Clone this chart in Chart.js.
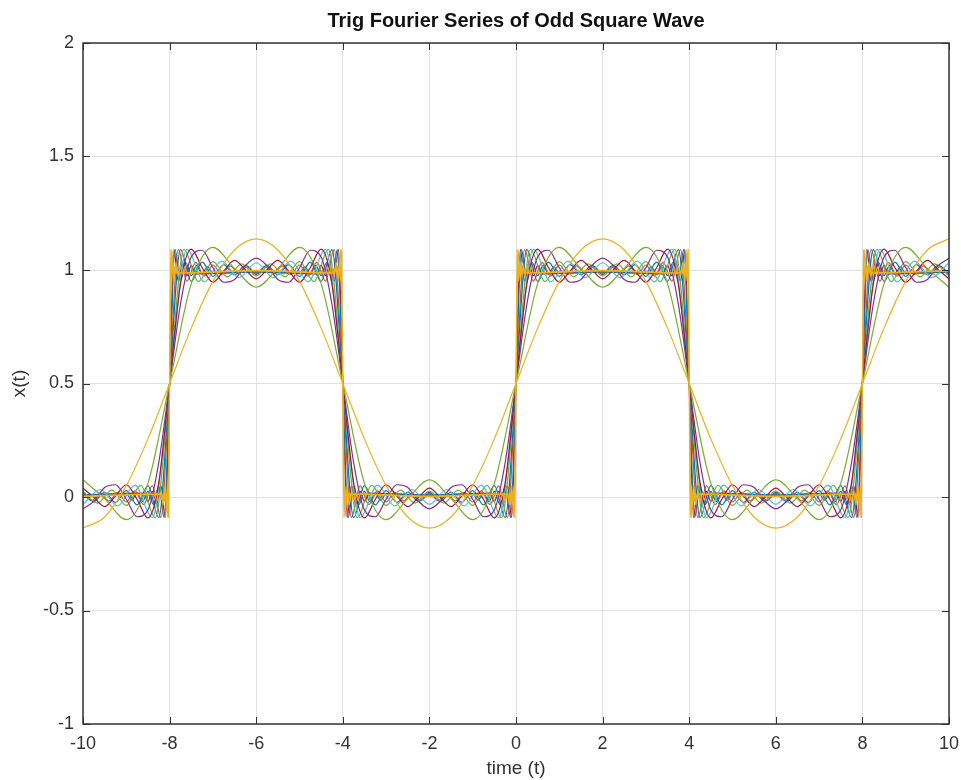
<!DOCTYPE html>
<html>
<head>
<meta charset="utf-8">
<script src="https://cdn.jsdelivr.net/npm/chart.js@4.4.1/dist/chart.umd.min.js"></script>
<style>
  body { margin: 0; background: #fff; }
  canvas { display: block; }
</style>
</head>
<body>
<canvas id="chart" width="961" height="780"></canvas>
<script>
// ========== Data ==========
const titleText = 'Trig Fourier Series of Odd Square Wave';
const xTicks = [-10, -8, -6, -4, -2, 0, 2, 4, 6, 8, 10];
const yTicks = [-1, -0.5, 0, 0.5, 1, 1.5, 2];

// time samples
const tHalf = [-10,-9.5,-9,-8.5,-8,-7.5,-7,-6.5,-6,-5.5,-5,-4.5,-4,-3.5,-3,-2.5,-2,-1.5,-1,-0.5,0,0.5,1,1.5,2,2.5,3,3.5,4,4.5,5,5.5,6,6.5,7,7.5,8,8.5,9,9.5,10];
const tQuarter = [-10,-9.75,-9.5,-9.25,-9,-8.75,-8.5,-8.25,-8,-7.75,-7.5,-7.25,-7,-6.75,-6.5,-6.25,-6,-5.75,-5.5,-5.25,-5,-4.75,-4.5,-4.25,-4,-3.75,-3.5,-3.25,-3,-2.75,-2.5,-2.25,-2,-1.75,-1.5,-1.25,-1,-0.75,-0.5,-0.25,0,0.25,0.5,0.75,1,1.25,1.5,1.75,2,2.25,2.5,2.75,3,3.25,3.5,3.75,4,4.25,4.5,4.75,5,5.25,5.5,5.75,6,6.25,6.5,6.75,7,7.25,7.5,7.75,8,8.25,8.5,8.75,9,9.25,9.5,9.75,10];
const tN9 = [-10,-9.6,-9.2,-8.8,-8.4,-8,-7.6,-7.2,-6.8,-6.4,-6,-5.6,-5.2,-4.8,-4.4,-4,-3.6,-3.2,-2.8,-2.4,-2,-1.6,-1.2,-0.8,-0.4,0,0.4,0.8,1.2,1.6,2,2.4,2.8,3.2,3.6,4,4.4,4.8,5.2,5.6,6,6.4,6.8,7.2,7.6,8,8.4,8.8,9.2,9.6,10];
const tN11 = [-10,-9.667,-9.333,-9,-8.667,-8.333,-8,-7.667,-7.333,-7,-6.667,-6.333,-6,-5.667,-5.333,-5,-4.667,-4.333,-4,-3.667,-3.333,-3,-2.667,-2.333,-2,-1.667,-1.333,-1,-0.667,-0.333,0,0.333,0.667,1,1.333,1.667,2,2.333,2.667,3,3.333,3.667,4,4.333,4.667,5,5.333,5.667,6,6.333,6.667,7,7.333,7.667,8,8.333,8.667,9,9.333,9.667,10];
const tFifth = [-10,-9.8,-9.6,-9.4,-9.2,-9,-8.8,-8.6,-8.4,-8.2,-8,-7.8,-7.6,-7.4,-7.2,-7,-6.8,-6.6,-6.4,-6.2,-6,-5.8,-5.6,-5.4,-5.2,-5,-4.8,-4.6,-4.4,-4.2,-4,-3.8,-3.6,-3.4,-3.2,-3,-2.8,-2.6,-2.4,-2.2,-2,-1.8,-1.6,-1.4,-1.2,-1,-0.8,-0.6,-0.4,-0.2,0,0.2,0.4,0.6,0.8,1,1.2,1.4,1.6,1.8,2,2.2,2.4,2.6,2.8,3,3.2,3.4,3.6,3.8,4,4.2,4.4,4.6,4.8,5,5.2,5.4,5.6,5.8,6,6.2,6.4,6.6,6.8,7,7.2,7.4,7.6,7.8,8,8.2,8.4,8.6,8.8,9,9.2,9.4,9.6,9.8,10];
const tN31 = [-10,
  -9,-8.875,-8.75,-8.625,-8.5,-8.375,-8.25,-8.125,-8,-7.875,-7.75,-7.625,-7.5,-7.375,-7.25,-7.125,-7,
  -6,
  -5,-4.875,-4.75,-4.625,-4.5,-4.375,-4.25,-4.125,-4,-3.875,-3.75,-3.625,-3.5,-3.375,-3.25,-3.125,-3,
  -2,
  -1,-0.875,-0.75,-0.625,-0.5,-0.375,-0.25,-0.125,0,0.125,0.25,0.375,0.5,0.625,0.75,0.875,1,
  2,
  3,3.125,3.25,3.375,3.5,3.625,3.75,3.875,4,4.125,4.25,4.375,4.5,4.625,4.75,4.875,5,
  6,
  7,7.125,7.25,7.375,7.5,7.625,7.75,7.875,8,8.125,8.25,8.375,8.5,8.625,8.75,8.875,9,
  10];
const tN39 = [-10,
  -8.6,-8.5,-8.4,-8.3,-8.2,-8.1,-8,-7.9,-7.8,-7.7,-7.6,-7.5,-7.4,
  -6,
  -4.6,-4.5,-4.4,-4.3,-4.2,-4.1,-4,-3.9,-3.8,-3.7,-3.6,-3.5,-3.4,
  -2,
  -0.6,-0.5,-0.4,-0.3,-0.2,-0.1,0,0.1,0.2,0.3,0.4,0.5,0.6,
  2,
  3.4,3.5,3.6,3.7,3.8,3.9,4,4.1,4.2,4.3,4.4,4.5,4.6,
  6,
  7.4,7.5,7.6,7.7,7.8,7.9,8,8.1,8.2,8.3,8.4,8.5,8.6,
  10];
const tN79 = [-10,
  -8.4,-8.35,-8.3,-8.25,-8.2,-8.15,-8.1,-8.05,-8,-7.95,-7.9,-7.85,-7.8,-7.75,-7.7,-7.65,-7.6,
  -6,
  -4.4,-4.35,-4.3,-4.25,-4.2,-4.15,-4.1,-4.05,-4,-3.95,-3.9,-3.85,-3.8,-3.75,-3.7,-3.65,-3.6,
  -2,
  -0.4,-0.35,-0.3,-0.25,-0.2,-0.15,-0.1,-0.05,0,0.05,0.1,0.15,0.2,0.25,0.3,0.35,0.4,
  2,
  3.6,3.65,3.7,3.75,3.8,3.85,3.9,3.95,4,4.05,4.1,4.15,4.2,4.25,4.3,4.35,4.4,
  6,
  7.6,7.65,7.7,7.75,7.8,7.85,7.9,7.95,8,8.05,8.1,8.15,8.2,8.25,8.3,8.35,8.4,
  10];
const tN159 = [-10,
  -8.2,-8.175,-8.15,-8.125,-8.1,-8.075,-8.05,-8.025,-8,-7.975,-7.95,-7.925,-7.9,-7.875,-7.85,-7.825,-7.8,
  -6,
  -4.2,-4.175,-4.15,-4.125,-4.1,-4.075,-4.05,-4.025,-4,-3.975,-3.95,-3.925,-3.9,-3.875,-3.85,-3.825,-3.8,
  -2,
  -0.2,-0.175,-0.15,-0.125,-0.1,-0.075,-0.05,-0.025,0,0.025,0.05,0.075,0.1,0.125,0.15,0.175,0.2,
  2,
  3.8,3.825,3.85,3.875,3.9,3.925,3.95,3.975,4,4.025,4.05,4.075,4.1,4.125,4.15,4.175,4.2,
  6,
  7.8,7.825,7.85,7.875,7.9,7.925,7.95,7.975,8,8.025,8.05,8.075,8.1,8.125,8.15,8.175,8.2,
  10];

// partial sums x(t), one list per number of harmonics
const sN1 = [-0.137,-0.088,0.050,0.256,0.5,
  0.744,0.950,1.088,1.137,1.088,0.950,0.744,0.5,
  0.256,0.050,-0.088,-0.137,-0.088,0.050,0.256,0.5,
  0.744,0.950,1.088,1.137,1.088,0.950,0.744,0.5,
  0.256,0.050,-0.088,-0.137,-0.088,0.050,0.256,0.5,
  0.744,0.950,1.088,1.137];
const sN3 = [0.076,-0.007,-0.100,0.060,0.5,
  0.940,1.100,1.007,0.924,1.007,1.100,0.940,0.5,
  0.060,-0.100,-0.007,0.076,-0.007,-0.100,0.060,0.5,
  0.940,1.100,1.007,0.924,1.007,1.100,0.940,0.5,
  0.060,-0.100,-0.007,0.076,-0.007,-0.100,0.060,0.5,
  0.940,1.100,1.007,0.924];
const sN5 = [-0.052,-0.019,0.042,0.054,-0.010,-0.087,-0.057,0.152,0.5,
  0.848,1.057,1.087,1.010,0.946,0.958,1.019,1.052,1.019,0.958,0.946,1.010,1.087,1.057,0.848,0.5,
  0.152,-0.057,-0.087,-0.010,0.054,0.042,-0.019,-0.052,-0.019,0.042,0.054,-0.010,-0.087,-0.057,0.152,0.5,
  0.848,1.057,1.087,1.010,0.946,0.958,1.019,1.052,1.019,0.958,0.946,1.010,1.087,1.057,0.848,0.5,
  0.152,-0.057,-0.087,-0.010,0.054,0.042,-0.019,-0.052,-0.019,0.042,0.054,-0.010,-0.087,-0.057,0.152,0.5,
  0.848,1.057,1.087,1.010,0.946,0.958,1.019,1.052];
const sN7 = [0.039,-0.001,-0.042,0.004,0.054,-0.011,-0.092,0.063,0.5,
  0.937,1.092,1.011,0.946,0.996,1.042,1.001,0.961,1.001,1.042,0.996,0.946,1.011,1.092,0.937,0.5,
  0.063,-0.092,-0.011,0.054,0.004,-0.042,-0.001,0.039,-0.001,-0.042,0.004,0.054,-0.011,-0.092,0.063,0.5,
  0.937,1.092,1.011,0.946,0.996,1.042,1.001,0.961,1.001,1.042,0.996,0.946,1.011,1.092,0.937,0.5,
  0.063,-0.092,-0.011,0.054,0.004,-0.042,-0.001,0.039,-0.001,-0.042,0.004,0.054,-0.011,-0.092,0.063,0.5,
  0.937,1.092,1.011,0.946,0.996,1.042,1.001,0.961];
const sN9 = [-0.032,0.033,-0.039,0.052,-0.091,0.5,
  1.091,0.948,1.039,0.967,1.032,0.967,1.039,0.948,1.091,0.5,
  -0.091,0.052,-0.039,0.033,-0.032,0.033,-0.039,0.052,-0.091,0.5,
  1.091,0.948,1.039,0.967,1.032,0.967,1.039,0.948,1.091,0.5,
  -0.091,0.052,-0.039,0.033,-0.032,0.033,-0.039,0.052,-0.091,0.5,
  1.091,0.948,1.039,0.967,1.032];
const sN11 = [0.026,-0.027,0.030,-0.037,0.051,-0.091,0.5,
  1.091,0.949,1.037,0.970,1.027,0.974,1.027,0.970,1.037,0.949,1.091,0.5,
  -0.091,0.051,-0.037,0.030,-0.027,0.026,-0.027,0.030,-0.037,0.051,-0.091,0.5,
  1.091,0.949,1.037,0.970,1.027,0.974,1.027,0.970,1.037,0.949,1.091,0.5,
  -0.091,0.051,-0.037,0.030,-0.027,0.026,-0.027,0.030,-0.037,0.051,-0.091,0.5,
  1.091,0.949,1.037,0.970,1.027,0.974];
const sN15 = [0.020,-0.020,0.021,-0.024,0.028,-0.035,0.050,-0.090,0.5,
  1.090,0.950,1.035,0.972,1.024,0.979,1.020,0.980,1.020,0.979,1.024,0.972,1.035,0.950,1.090,0.5,
  -0.090,0.050,-0.035,0.028,-0.024,0.021,-0.020,0.020,-0.020,0.021,-0.024,0.028,-0.035,0.050,-0.090,0.5,
  1.090,0.950,1.035,0.972,1.024,0.979,1.020,0.980,1.020,0.979,1.024,0.972,1.035,0.950,1.090,0.5,
  -0.090,0.050,-0.035,0.028,-0.024,0.021,-0.020,0.020,-0.020,0.021,-0.024,0.028,-0.035,0.050,-0.090,0.5,
  1.090,0.950,1.035,0.972,1.024,0.979,1.020,0.980];
const sN19 = [0.016,-0.016,0.017,-0.018,0.020,-0.022,0.027,-0.034,0.049,-0.090,0.5,
  1.090,0.951,1.034,0.973,1.022,0.980,1.018,0.983,1.016,0.984,1.016,0.983,1.018,0.980,1.022,0.973,1.034,0.951,1.090,0.5,
  -0.090,0.049,-0.034,0.027,-0.022,0.020,-0.018,0.017,-0.016,0.016,-0.016,0.017,-0.018,0.020,-0.022,0.027,-0.034,0.049,-0.090,0.5,
  1.090,0.951,1.034,0.973,1.022,0.980,1.018,0.983,1.016,0.984,1.016,0.983,1.018,0.980,1.022,0.973,1.034,0.951,1.090,0.5,
  -0.090,0.049,-0.034,0.027,-0.022,0.020,-0.018,0.017,-0.016,0.016,-0.016,0.017,-0.018,0.020,-0.022,0.027,-0.034,0.049,-0.090,0.5,
  1.090,0.951,1.034,0.973,1.022,0.980,1.018,0.983,1.016,0.984];
const sN31 = [0.010,
  0.014,-0.014,0.017,-0.020,0.025,-0.033,0.049,-0.090,0.5,1.090,0.951,1.033,0.975,1.020,0.983,1.014,0.986,
  0.990,
  0.986,1.014,0.983,1.020,0.975,1.033,0.951,1.090,0.5,-0.090,0.049,-0.033,0.025,-0.020,0.017,-0.014,0.014,
  0.010,
  0.014,-0.014,0.017,-0.020,0.025,-0.033,0.049,-0.090,0.5,1.090,0.951,1.033,0.975,1.020,0.983,1.014,0.986,
  0.990,
  0.986,1.014,0.983,1.020,0.975,1.033,0.951,1.090,0.5,-0.090,0.049,-0.033,0.025,-0.020,0.017,-0.014,0.014,
  0.010,
  0.014,-0.014,0.017,-0.020,0.025,-0.033,0.049,-0.090,0.5,1.090,0.951,1.033,0.975,1.020,0.983,1.014,0.986,
  0.990];
const sN39 = [0.008,
  0.017,-0.020,0.025,-0.033,0.049,-0.090,0.5,1.090,0.951,1.033,0.975,1.020,0.983,
  0.992,
  0.983,1.020,0.975,1.033,0.951,1.090,0.5,-0.090,0.049,-0.033,0.025,-0.020,0.017,
  0.008,
  0.017,-0.020,0.025,-0.033,0.049,-0.090,0.5,1.090,0.951,1.033,0.975,1.020,0.983,
  0.992,
  0.983,1.020,0.975,1.033,0.951,1.090,0.5,-0.090,0.049,-0.033,0.025,-0.020,0.017,
  0.008,
  0.017,-0.020,0.025,-0.033,0.049,-0.090,0.5,1.090,0.951,1.033,0.975,1.020,0.983,
  0.992];
const sN79 = [0.004,
  0.013,-0.014,0.017,-0.020,0.025,-0.033,0.049,-0.090,0.5,1.090,0.951,1.033,0.975,1.020,0.983,1.014,0.987,
  0.996,
  0.987,1.014,0.983,1.020,0.975,1.033,0.951,1.090,0.5,-0.090,0.049,-0.033,0.025,-0.020,0.017,-0.014,0.013,
  0.004,
  0.013,-0.014,0.017,-0.020,0.025,-0.033,0.049,-0.090,0.5,1.090,0.951,1.033,0.975,1.020,0.983,1.014,0.987,
  0.996,
  0.987,1.014,0.983,1.020,0.975,1.033,0.951,1.090,0.5,-0.090,0.049,-0.033,0.025,-0.020,0.017,-0.014,0.013,
  0.004,
  0.013,-0.014,0.017,-0.020,0.025,-0.033,0.049,-0.090,0.5,1.090,0.951,1.033,0.975,1.020,0.983,1.014,0.987,
  0.996];
const sN159 = [0.002,
  0.013,-0.014,0.017,-0.020,0.025,-0.033,0.049,-0.090,0.5,1.090,0.951,1.033,0.975,1.020,0.983,1.014,0.987,
  0.998,
  0.987,1.014,0.983,1.020,0.975,1.033,0.951,1.090,0.5,-0.090,0.049,-0.033,0.025,-0.020,0.017,-0.014,0.013,
  0.002,
  0.013,-0.014,0.017,-0.020,0.025,-0.033,0.049,-0.090,0.5,1.090,0.951,1.033,0.975,1.020,0.983,1.014,0.987,
  0.998,
  0.987,1.014,0.983,1.020,0.975,1.033,0.951,1.090,0.5,-0.090,0.049,-0.033,0.025,-0.020,0.017,-0.014,0.013,
  0.002,
  0.013,-0.014,0.017,-0.020,0.025,-0.033,0.049,-0.090,0.5,1.090,0.951,1.033,0.975,1.020,0.983,1.014,0.987,
  0.998];

// matlab line colours
const blue = '#0072BD', orange = '#D95319', yellow = '#EDB120', purple = '#7E2F8E',
      green = '#77AC30', cyan = '#4DBEEE', red = '#A2142F';

const FONT = '"Liberation Sans", Arial, Helvetica, sans-serif';

function curve(ts, ys, color) {
    return {
        data: ts.map((t, i) => ({x: t, y: ys[i]})),
        borderColor: color,
        borderWidth: 1.2,
        pointRadius: 0,
        fill: false,
        cubicInterpolationMode: 'monotone'
    };
}

// first dataset is drawn on top
const datasets = [
    curve(tN159, sN159, yellow),
    curve(tN79, sN79, yellow),
    curve(tHalf, sN1, yellow),
    curve(tHalf, sN3, green),
    curve(tQuarter, sN5, purple),
    curve(tQuarter, sN7, red),
    curve(tN9, sN9, cyan),
    curve(tN11, sN11, green),
    curve(tQuarter, sN15, blue),
    curve(tFifth, sN19, orange),
    curve(tN31, sN31, blue),
    curve(tN39, sN39, red)
];

// box, inward ticks and title (matlab style)
const frame = {
    id: 'frame',
    afterDraw(chart) {
        const {ctx, chartArea: a, scales: {x, y}} = chart;
        ctx.save();
        ctx.strokeStyle = '#333';
        ctx.lineWidth = 1;
        ctx.beginPath();
        xTicks.forEach(v => {
            const px = Math.round(x.getPixelForValue(v)) + 0.5;
            ctx.moveTo(px, a.bottom); ctx.lineTo(px, a.bottom - 7);
            ctx.moveTo(px, a.top); ctx.lineTo(px, a.top + 7);
        });
        yTicks.forEach(v => {
            const py = Math.round(y.getPixelForValue(v)) + 0.5;
            ctx.moveTo(a.left, py); ctx.lineTo(a.left + 7, py);
            ctx.moveTo(a.right, py); ctx.lineTo(a.right - 7, py);
        });
        ctx.stroke();
        ctx.lineWidth = 1.5;
        ctx.strokeRect(a.left, a.top, a.right - a.left, a.bottom - a.top);

        ctx.fillStyle = '#111';
        ctx.font = 'bold 20px ' + FONT;
        ctx.textAlign = 'center';
        ctx.textBaseline = 'middle';
        ctx.fillText(titleText, (a.left + a.right) / 2, 21);
        ctx.restore();
    }
};

const ctx = document.getElementById('chart').getContext('2d');
const myChart = new Chart(ctx, {
    type: 'line',
    data: { datasets: datasets },
    options: {
        responsive: false,
        animation: false,
        layout: { padding: { top: 43, right: 12, bottom: 0, left: 0 } },
        plugins: {
            legend: { display: false },
            tooltip: { enabled: false },
            title: { display: false }
        },
        scales: {
            x: {
                type: 'linear',
                min: -10,
                max: 10,
                afterBuildTicks: s => { s.ticks = xTicks.map(v => ({value: v})); },
                afterFit: s => { s.height = 56; s.paddingLeft = 0; s.paddingRight = 0; },
                ticks: {
                    padding: 9,
                    color: '#333',
                    font: { family: FONT, size: 18 },
                    maxRotation: 0,
                    callback: v => String(v)
                },
                grid: { color: '#e2e2e2', drawTicks: false },
                border: { display: false },
                title: {
                    display: true,
                    text: 'time (t)',
                    color: '#333',
                    font: { family: FONT, size: 19 },
                    padding: { top: 0, bottom: 0 }
                }
            },
            y: {
                type: 'linear',
                min: -1,
                max: 2,
                afterBuildTicks: s => { s.ticks = yTicks.map(v => ({value: v})); },
                afterFit: s => { s.width = 83; s.paddingTop = 0; s.paddingBottom = 0; },
                ticks: {
                    padding: 9,
                    color: '#333',
                    font: { family: FONT, size: 18 },
                    callback: v => String(v)
                },
                grid: { color: '#e2e2e2', drawTicks: false },
                border: { display: false },
                title: {
                    display: true,
                    text: 'x(t)',
                    color: '#333',
                    font: { family: FONT, size: 19 },
                    padding: { top: 8, bottom: 0 }
                }
            }
        }
    },
    plugins: [frame]
});
</script>
</body>
</html>
